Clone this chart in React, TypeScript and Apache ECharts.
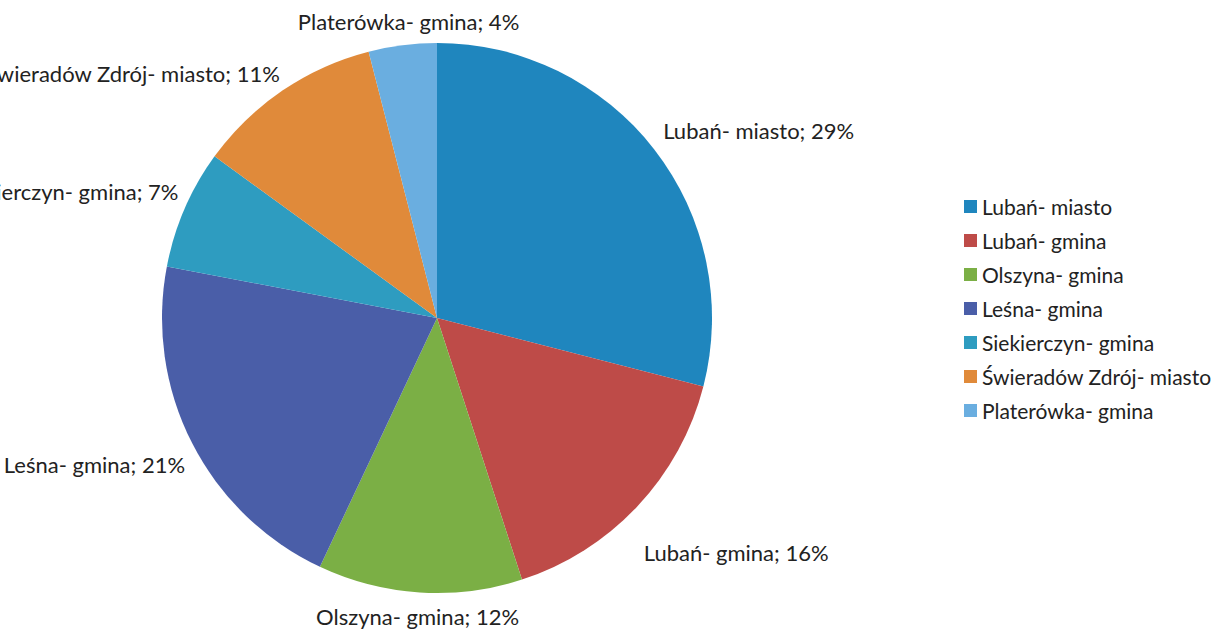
import React, { useEffect, useRef } from "react";
import * as echarts from "echarts";

const categories = [
  "Lubań- miasto",
  "Lubań- gmina",
  "Olszyna- gmina",
  "Leśna- gmina",
  "Siekierczyn- gmina",
  "Świeradów Zdrój- miasto",
  "Platerówka- gmina",
];
const values = [29, 16, 12, 21, 7, 11, 4];
const colors = ["#1F86BE", "#BE4B48", "#7BAF45", "#4A5EA8", "#2E9CC0", "#E08A3A", "#6AAEE0"];
// small nudges of the outside labels, in pixels
const labelNudgeX = [-4, -6, 105, 7, 8, 8, 123];
const labelNudgeY = [-13, 39, 14, 17, -13, -9, -14];

export default function App() {
  const ref = useRef<HTMLDivElement>(null);
  useEffect(() => {
    document.body.style.margin = "0";
    const chart = echarts.init(ref.current!, null, { renderer: "svg" });
    chart.setOption({
      animation: false,
      backgroundColor: "#ffffff",
      color: colors,
      legend: {
        orient: "vertical",
        left: 959,
        top: 191,
        itemWidth: 13,
        itemHeight: 13,
        itemGap: 13,
        icon: "rect",
        textStyle: { fontFamily: "Lato", fontSize: 21, color: "#222" },
        data: categories,
      },
      series: [
        {
          type: "pie",
          center: [437, 318],
          radius: 275,
          startAngle: 90,
          clockwise: true,
          avoidLabelOverlap: false,
          label: {
            show: true,
            position: "outside",
            formatter: "{b}; {c}%",
            fontFamily: "Lato",
            fontSize: 22,
            color: "#222",
          },
          labelLine: { show: false, length: 10, length2: 0 },
          labelLayout: (params: any) => ({
            dx: labelNudgeX[params.dataIndex],
            dy: labelNudgeY[params.dataIndex],
          }),
          itemStyle: { borderWidth: 0 },
          emphasis: { disabled: true },
          data: categories.map((name, i) => ({ name, value: values[i] })),
        },
      ],
    });
    return () => chart.dispose();
  }, []);
  return <div ref={ref} style={{ width: 1228, height: 630 }} />;
}
